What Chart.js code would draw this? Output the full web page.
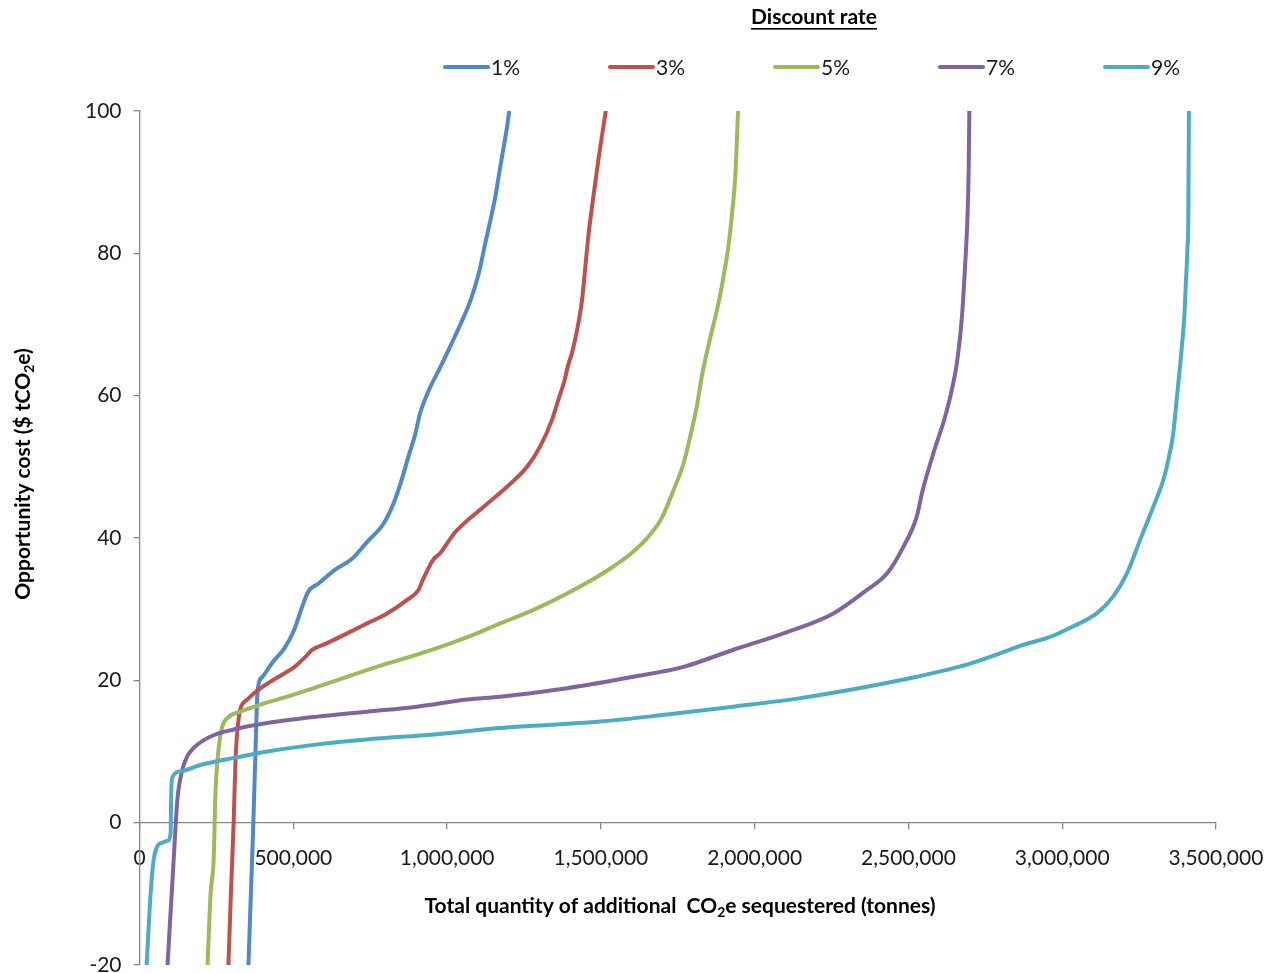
<!DOCTYPE html>
<html>
<head>
<meta charset="utf-8">
<title>Opportunity cost of additional CO2e sequestration</title>
<script src="https://cdn.jsdelivr.net/npm/chart.js@4.4.1/dist/chart.umd.min.js"></script>
<style>
  html, body { margin: 0; padding: 0; background: #ffffff; }
  #chart { display: block; }
</style>
</head>
<body>
<canvas id="chart" width="1274" height="973"></canvas>
<script>
// discount rates in the legend
var rateLabels = ['1%', '3%', '5%', '7%', '9%'];
var rateColors = ['#4F87D0', '#C0504D', '#9BBB59', '#8064A2', '#4BACC6'];

// total CO2e sequestered (tonnes) vs opportunity cost ($/tCO2e)
var qty1 = [354000, 362000, 370000, 377000, 382000, 387000, 400000, 432000, 471000, 502000,
  530000, 549000, 582000, 634000, 689000, 741000, 793000, 827000, 851000, 874000,
  897000, 912000, 941000, 978000, 1011000, 1043000, 1077000, 1103000, 1124000, 1141000,
  1157000, 1173000, 1195000, 1202000];
var cost1 = [-20, -10, 0, 10, 17, 19.5, 20.5, 22.5, 24.5, 27,
  30.5, 32.5, 33.6, 35.5, 37, 39.5, 42, 45, 48, 51.4,
  54.7, 57.5, 60.8, 64, 67, 70, 73.5, 77.2, 81.4, 84.7,
  88, 92.2, 97.8, 100];

var qty3 = [289000, 297000, 306000, 312000, 323000, 330000, 350000, 387000, 452000, 504000,
  539000, 562000, 608000, 675000, 740000, 805000, 870000, 907000, 921000, 954000,
  978000, 1024000, 1119000, 1195000, 1260000, 1303000, 1341000, 1363000, 1379000, 1395000,
  1406000, 1423000, 1439000, 1449000, 1460000, 1476000, 1493000, 1516000];
var cost3 = [-20, -10, 0, 8.8, 14.9, 16.3, 17.3, 18.7, 20.5, 21.9,
  23.3, 24.3, 25.2, 26.6, 28, 29.4, 31.3, 32.7, 34.1, 36.9,
  37.9, 40.7, 44.4, 47.2, 50, 52.9, 56.6, 59.6, 61.7, 64.5,
  66, 69.3, 73.5, 77.9, 82.7, 88.1, 93.5, 100];

var qty5 = [221000, 231000, 241000, 247000, 258000, 269000, 285000, 328000, 393000, 480000,
  566000, 675000, 794000, 902000, 1011000, 1097000, 1173000, 1281000, 1390000, 1520000,
  1606000, 1655000, 1699000, 1736000, 1769000, 1796000, 1812000, 1829000, 1856000, 1883000,
  1899000, 1915000, 1926000, 1937000, 1946000];
var cost5 = [-20, -10, -5.2, 4.2, 10.7, 13.5, 14.7, 15.6, 16.6, 17.7,
  18.9, 20.5, 22.2, 23.6, 25.2, 26.6, 28, 29.9, 32.2, 35.4,
  38.1, 40.2, 42.9, 46.7, 50.5, 55.3, 58.5, 62.9, 68.2, 73.1,
  76.8, 81.1, 85.4, 90.8, 100];

var qty7 = [91000, 111000, 123000, 139000, 155000, 176000, 231000, 306000, 415000, 578000,
  740000, 902000, 1065000, 1173000, 1390000, 1606000, 1769000, 1931000, 2094000, 2256000,
  2365000, 2430000, 2484000, 2527000, 2545000, 2581000, 2619000, 2641000, 2659000, 2674000,
  2684000, 2692000, 2696000, 2698000];
var cost7 = [-20, -5.2, 3.2, 7.4, 9.3, 10.5, 12.1, 13.1, 14, 14.9,
  15.6, 16.3, 17.3, 17.7, 18.9, 20.5, 21.9, 24.3, 26.6, 29.4,
  32.7, 35, 38.8, 43, 46.5, 51.9, 57, 60.8, 65, 71.1,
  78.1, 85.1, 92.2, 100];

var qty9 = [23000, 36000, 46000, 58000, 68000, 93000, 101000, 103000, 106000, 133000,
  198000, 306000, 415000, 578000, 740000, 956000, 1173000, 1498000, 1715000, 1931000,
  2148000, 2365000, 2527000, 2690000, 2798000, 2874000, 2961000, 3036000, 3112000, 3166000,
  3210000, 3253000, 3296000, 3329000, 3345000, 3361000, 3372000, 3388000, 3397000, 3402000,
  3407000, 3410000, 3412000];
var cost9 = [-20, -10, -5.2, -3.3, -2.9, -2.5, -1.5, 4.2, 6.3, 7.2,
  8.1, 9.1, 10, 11, 11.7, 12.4, 13.3, 14.2, 15.2, 16.3,
  17.5, 19.1, 20.5, 22.2, 23.8, 25, 26.1, 27.6, 29.4, 31.8,
  35, 39.7, 44.4, 48.2, 51, 54.7, 59.4, 66.4, 71.1, 75.8,
  80.5, 85.1, 100];

var qtyTicks = [0, 500000, 1000000, 1500000, 2000000, 2500000, 3000000, 3500000];
var costTicks = [-20, 0, 20, 40, 60, 80, 100];

var quantities = [qty1, qty3, qty5, qty7, qty9];
var costs = [cost1, cost3, cost5, cost7, cost9];

var FONT = 'Lato, "Open Sans", "DejaVu Sans", sans-serif';
var AXIS_GREY = '#868686';

function toPoints(q, c) {
  return q.map(function(v, i) { return {x: v, y: c[i]}; });
}

// axis titles, with the 2 of CO2 set as a subscript
var xTitle = [['Total quantity of additional  CO', false], ['2', true], ['e sequestered (tonnes)', false]];
var yTitle = [['Opportunity cost ($ tCO', false], ['2', true], ['e)', false]];

function drawParts(ctx, parts, size) {
  var mainFont = 'bold ' + size + 'px ' + FONT;
  var subFont = 'bold ' + Math.round(size * 0.65) + 'px ' + FONT;
  var total = 0;
  parts.forEach(function(p) {
    ctx.font = p[1] ? subFont : mainFont;
    total += ctx.measureText(p[0]).width;
  });
  var x = -total / 2;
  ctx.textAlign = 'left';
  ctx.textBaseline = 'middle';
  parts.forEach(function(p) {
    ctx.font = p[1] ? subFont : mainFont;
    ctx.fillText(p[0], x, p[1] ? size * 0.3 : 0);
    x += ctx.measureText(p[0]).width;
  });
}

var decorations = {
  id: 'decorations',
  afterDraw: function(chart) {
    var ctx = chart.ctx;
    ctx.save();
    ctx.fillStyle = '#000000';

    // legend heading, underlined
    ctx.font = 'bold 21px ' + FONT;
    ctx.textAlign = 'center';
    ctx.textBaseline = 'middle';
    ctx.fillText('Discount rate', 814, 17);
    var tw = ctx.measureText('Discount rate').width;
    ctx.fillRect(814 - tw / 2, 28, tw, 1.6);

    // legend entries
    chart.data.datasets.forEach(function(ds, i) {
      var x = 443 + i * 165;
      ctx.strokeStyle = ds.borderColor;
      ctx.lineWidth = 4;
      ctx.lineCap = 'round';
      ctx.beginPath();
      ctx.moveTo(x + 2, 67);
      ctx.lineTo(x + 45, 67);
      ctx.stroke();
      ctx.font = '21px ' + FONT;
      ctx.textAlign = 'left';
      ctx.fillStyle = '#1a1a1a';
      ctx.fillText(ds.label, x + 48, 68);
    });

    ctx.fillStyle = '#000000';
    ctx.save();
    ctx.translate(680, 906);
    drawParts(ctx, xTitle, 21);
    ctx.restore();

    ctx.save();
    ctx.translate(23, 474);
    ctx.rotate(-Math.PI / 2);
    drawParts(ctx, yTitle, 21);
    ctx.restore();

    ctx.restore();
  }
};

var datasets = rateLabels.map(function(label, i) {
  return {
    label: label,
    data: toPoints(quantities[i], costs[i]),
    borderColor: rateColors[i],
    backgroundColor: rateColors[i],
    borderWidth: 4,
    showLine: true,
    pointRadius: 0,
    cubicInterpolationMode: 'monotone',
    order: rateLabels.length - i
  };
});

var ctx = document.getElementById('chart').getContext('2d');
var chart = new Chart(ctx, {
  type: 'scatter',
  data: {datasets: datasets},
  options: {
    responsive: false,
    animation: false,
    layout: {
      padding: {left: 73, right: 58, top: 111, bottom: 0}
    },
    plugins: {
      legend: {display: false},
      tooltip: {enabled: false}
    },
    scales: {
      x: {
        type: 'linear',
        position: {y: 0},
        min: 0,
        max: 3500000,
        afterBuildTicks: function(axis) {
          axis.ticks = qtyTicks.map(function(v) { return {value: v}; });
        },
        afterFit: function(axis) {
          // the last label may run into the right margin
          axis.paddingLeft = 0;
          axis.paddingRight = 0;
        },
        ticks: {
          autoSkip: false,
          maxRotation: 0,
          padding: 17,
          color: '#1a1a1a',
          font: {family: FONT, size: 21},
          callback: function(v) { return Number(v).toLocaleString('en-US'); }
        },
        grid: {drawOnChartArea: false, drawTicks: true, tickLength: 6, color: AXIS_GREY, lineWidth: 1.3},
        border: {display: true, color: AXIS_GREY, width: 1.3}
      },
      y: {
        type: 'linear',
        min: -20,
        max: 100,
        afterBuildTicks: function(axis) {
          axis.ticks = costTicks.map(function(v) { return {value: v}; });
        },
        afterFit: function(axis) {
          // let the -20 label sit on the bottom edge like the original
          axis.paddingTop = 8;
          axis.paddingBottom = 8;
        },
        ticks: {
          padding: 12,
          color: '#1a1a1a',
          font: {family: FONT, size: 21}
        },
        grid: {drawOnChartArea: false, drawTicks: true, tickLength: 6, color: AXIS_GREY, lineWidth: 1.3},
        border: {display: true, color: AXIS_GREY, width: 1.3}
      }
    }
  },
  plugins: [decorations]
});
</script>
</body>
</html>
